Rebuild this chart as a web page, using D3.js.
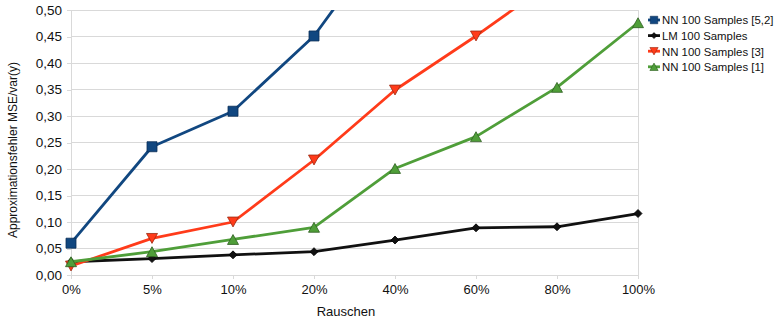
<!DOCTYPE html>
<html>
<head>
<meta charset="utf-8">
<script src="https://cdn.jsdelivr.net/npm/d3@7"></script>
<style>
  html, body { margin: 0; padding: 0; background: #fff; }
  svg { display: block; font-family: "Liberation Sans", Arial, sans-serif; }
</style>
</head>
<body>
<svg id="chart" width="774" height="321"></svg>
<script>
// Noise levels on the x axis
const categories = ["0%", "5%", "10%", "20%", "40%", "60%", "80%", "100%"];

// Approximation error MSE/var(y) per noise level
const nn52 = [0.060, 0.242, 0.309, 0.451, 0.66, null, null, null];
const lm   = [0.025, 0.031, 0.038, 0.044, 0.066, 0.089, 0.091, 0.116];
const nn3  = [0.017, 0.069, 0.100, 0.217, 0.349, 0.451, 0.56, null];
const nn1  = [0.025, 0.044, 0.067, 0.090, 0.201, 0.261, 0.354, 0.476];

const seriesNames = ["NN 100 Samples [5,2]", "LM 100 Samples", "NN 100 Samples [3]", "NN 100 Samples [1]"];
const yTicks = [0, 0.05, 0.10, 0.15, 0.20, 0.25, 0.30, 0.35, 0.40, 0.45, 0.50];

const series = [
  { name: seriesNames[0], values: nn52, color: "#114780", stroke: "#0b2f57", shape: "square" },
  { name: seriesNames[1], values: lm,   color: "#111111", stroke: "#000000", shape: "diamond" },
  { name: seriesNames[2], values: nn3,  color: "#ff3b1a", stroke: "#9a2a12", shape: "down" },
  { name: seriesNames[3], values: nn1,  color: "#4f9e39", stroke: "#2d5e20", shape: "up" }
];

const svg = d3.select("#chart");
const plotLeft = 71, plotRight = 638, plotTop = 10, plotBottom = 275;

const x = d3.scalePoint().domain(categories).range([plotLeft, plotRight]);
const y = d3.scaleLinear().domain([0, 0.5]).range([plotBottom, plotTop]);

const fmt = d => d3.format(".2f")(d).replace(".", ",");

// Horizontal gridlines
svg.append("g").selectAll("line").data(yTicks).join("line")
  .attr("x1", plotLeft).attr("x2", plotRight)
  .attr("y1", d => y(d)).attr("y2", d => y(d))
  .attr("stroke", "#d9d9d9").attr("stroke-width", 1)
  .attr("shape-rendering", "crispEdges");

// Right border of the plot area
svg.append("line")
  .attr("x1", plotRight).attr("x2", plotRight).attr("y1", plotTop).attr("y2", plotBottom)
  .attr("stroke", "#d9d9d9").attr("shape-rendering", "crispEdges");

// Y axis
const yAxis = svg.append("g").attr("transform", `translate(${plotLeft},0)`)
  .call(d3.axisLeft(y).tickValues(yTicks).tickFormat(fmt).tickSize(4).tickPadding(5));
yAxis.select(".domain").attr("stroke", "#d9d9d9");
yAxis.selectAll(".tick line").attr("stroke", "#d9d9d9");
yAxis.selectAll("text").attr("font-size", 13.5).attr("fill", "#111");
yAxis.attr("shape-rendering", "crispEdges");

// X axis
const xAxis = svg.append("g").attr("transform", `translate(0,${plotBottom})`)
  .call(d3.axisBottom(x).tickSize(4).tickPadding(6).tickSizeOuter(0));
xAxis.select(".domain").attr("stroke", "#d9d9d9");
xAxis.selectAll(".tick line").attr("stroke", "#d9d9d9");
xAxis.selectAll("text").attr("font-size", 13).attr("fill", "#111");
xAxis.attr("shape-rendering", "crispEdges");

// Axis titles
svg.append("text")
  .attr("x", 346).attr("y", 316)
  .attr("text-anchor", "middle").attr("font-size", 13).attr("fill", "#111")
  .text("Rauschen");
svg.append("text")
  .attr("transform", "translate(17,150) rotate(-90)")
  .attr("text-anchor", "middle").attr("font-size", 12).attr("fill", "#111")
  .text("Approximationsfehler MSE/var(y)");

// Clip the series to the plot area
svg.append("clipPath").attr("id", "plotClip")
  .append("rect").attr("x", plotLeft - 10).attr("y", plotTop)
  .attr("width", plotRight - plotLeft + 20).attr("height", plotBottom - plotTop + 20);

const symbolPath = (shape, size) => {
  if (shape === "square") return d3.symbol(d3.symbolSquare, size * size)();
  if (shape === "diamond") {
    const s = size / 2;
    return `M0,${-s}L${s},0L0,${s}L${-s},0Z`;
  }
  const h = size * 0.9, w = size / 2;
  if (shape === "up") return `M0,${-h / 2}L${w},${h / 2}L${-w},${h / 2}Z`;
  return `M0,${h / 2}L${w},${-h / 2}L${-w},${-h / 2}Z`;
};
const markerSize = { square: 10, diamond: 8, up: 11, down: 11 };

const line = d3.line()
  .defined(d => d.v != null)
  .x(d => x(d.c)).y(d => y(d.v));

const plot = svg.append("g").attr("clip-path", "url(#plotClip)");

series.forEach(s => {
  const pts = s.values.map((v, i) => ({ c: categories[i], v }));
  plot.append("path").datum(pts)
    .attr("d", line).attr("fill", "none")
    .attr("stroke", s.color).attr("stroke-width", 2.8)
    .attr("stroke-linejoin", "round");
  plot.append("g").selectAll("path")
    .data(pts.filter(d => d.v != null && d.v <= 0.5))
    .join("path")
    .attr("transform", d => `translate(${x(d.c)},${y(d.v)})`)
    .attr("d", symbolPath(s.shape, markerSize[s.shape]))
    .attr("fill", s.color).attr("stroke", s.stroke).attr("stroke-width", 0.8);
});

// Legend
const legend = svg.append("g");
series.forEach((s, i) => {
  const cy = 20 + i * 15.6;
  const g = legend.append("g").attr("transform", `translate(0,${cy})`);
  g.append("line").attr("x1", 648).attr("x2", 660).attr("y1", 0).attr("y2", 0)
    .attr("stroke", s.color).attr("stroke-width", 2.8);
  g.append("path").attr("transform", "translate(654,0)")
    .attr("d", symbolPath(s.shape, markerSize[s.shape] * 0.75))
    .attr("fill", s.color).attr("stroke", s.stroke).attr("stroke-width", 0.6);
  g.append("text").attr("x", 662).attr("y", 4.3)
    .attr("font-size", 11.4).attr("fill", "#111")
    .text(s.name);
});
</script>
</body>
</html>
